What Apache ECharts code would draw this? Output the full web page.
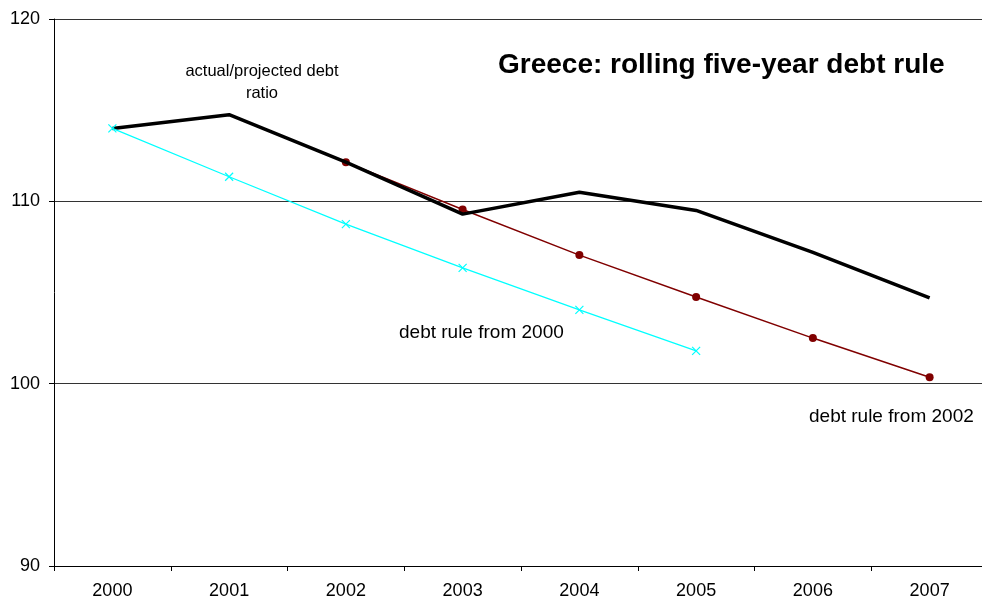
<!DOCTYPE html>
<html>
<head>
<meta charset="utf-8">
<script src="https://cdn.jsdelivr.net/npm/echarts@6/dist/echarts.min.js"></script>
<style>
  html, body { margin: 0; padding: 0; background: #fff; overflow: hidden; }
  /* a few px wider than the window: the plot runs past the right edge, like the original */
  #chart { width: 988px; height: 603px; }
</style>
</head>
<body>
<div id="chart"></div>
<script>
// categories
var years = ["2000", "2001", "2002", "2003", "2004", "2005", "2006", "2007"];
// actual / projected debt ratio
var actualDebt = [114.0, 114.75, 112.15, 109.3, 110.5, 109.5, 107.2, 104.7];
// debt rule starting 2000
var rule2000 = [114.0, 111.35, 108.75, 106.35, 104.05, 101.8, null, null];
// debt rule starting 2002
var rule2002 = [null, null, 112.15, 109.55, 107.05, 104.75, 102.5, 100.35];

var myChart = echarts.init(document.getElementById("chart"));
var font = "Arial, 'Liberation Sans', sans-serif";

var option = {
  backgroundColor: "#fff",
  animation: false,
  textStyle: { fontFamily: font },
  grid: { left: 54, right: 0, top: 19, bottom: 37 },
  xAxis: {
    type: "category",
    data: years,
    boundaryGap: true,
    axisLine: { lineStyle: { color: "#000", width: 1 } },
    axisTick: { show: true, length: 5, lineStyle: { color: "#000" } },
    axisLabel: { color: "#000", fontSize: 18, margin: 16, fontFamily: font }
  },
  yAxis: {
    type: "value",
    min: 90,
    max: 120,
    interval: 10,
    axisLine: { show: true, lineStyle: { color: "#000", width: 1 } },
    axisTick: { show: true, length: 5, lineStyle: { color: "#000" } },
    axisLabel: { color: "#000", fontSize: 18, margin: 14, fontFamily: font },
    splitLine: { show: true, lineStyle: { color: "#333", width: 1 } }
  },
  series: [
    {
      name: "actual/projected debt ratio",
      type: "line",
      data: actualDebt,
      showSymbol: false,
      symbol: "none",
      lineStyle: { color: "#000", width: 3.5 },
      z: 3
    },
    {
      name: "debt rule from 2000",
      type: "line",
      data: rule2000,
      symbol: "path://M0,0L10,10M10,0L0,10",
      symbolSize: 8,
      itemStyle: { color: "none", borderColor: "#00ffff", borderWidth: 1.2 },
      lineStyle: { color: "#00ffff", width: 1.2 },
      z: 4
    },
    {
      name: "debt rule from 2002",
      type: "line",
      data: rule2002,
      symbol: "circle",
      symbolSize: 8,
      itemStyle: { color: "#800000", borderWidth: 0 },
      lineStyle: { color: "#800000", width: 1.5 },
      z: 2
    }
  ],
  graphic: [
    {
      type: "text", x: 498, y: 65,
      style: { text: "Greece: rolling five-year debt rule", font: "bold 28px " + font, fill: "#000", verticalAlign: "middle" }
    },
    {
      type: "text", x: 262, y: 82,
      style: { text: "actual/projected debt\nratio", font: "16.5px " + font, fill: "#000", align: "center", verticalAlign: "middle", lineHeight: 22 }
    },
    {
      type: "text", x: 399, y: 333,
      style: { text: "debt rule from 2000", font: "19px " + font, fill: "#000", verticalAlign: "middle" }
    },
    {
      type: "text", x: 809, y: 417,
      style: { text: "debt rule from 2002", font: "19px " + font, fill: "#000", verticalAlign: "middle" }
    }
  ]
};

myChart.setOption(option);
</script>
</body>
</html>
